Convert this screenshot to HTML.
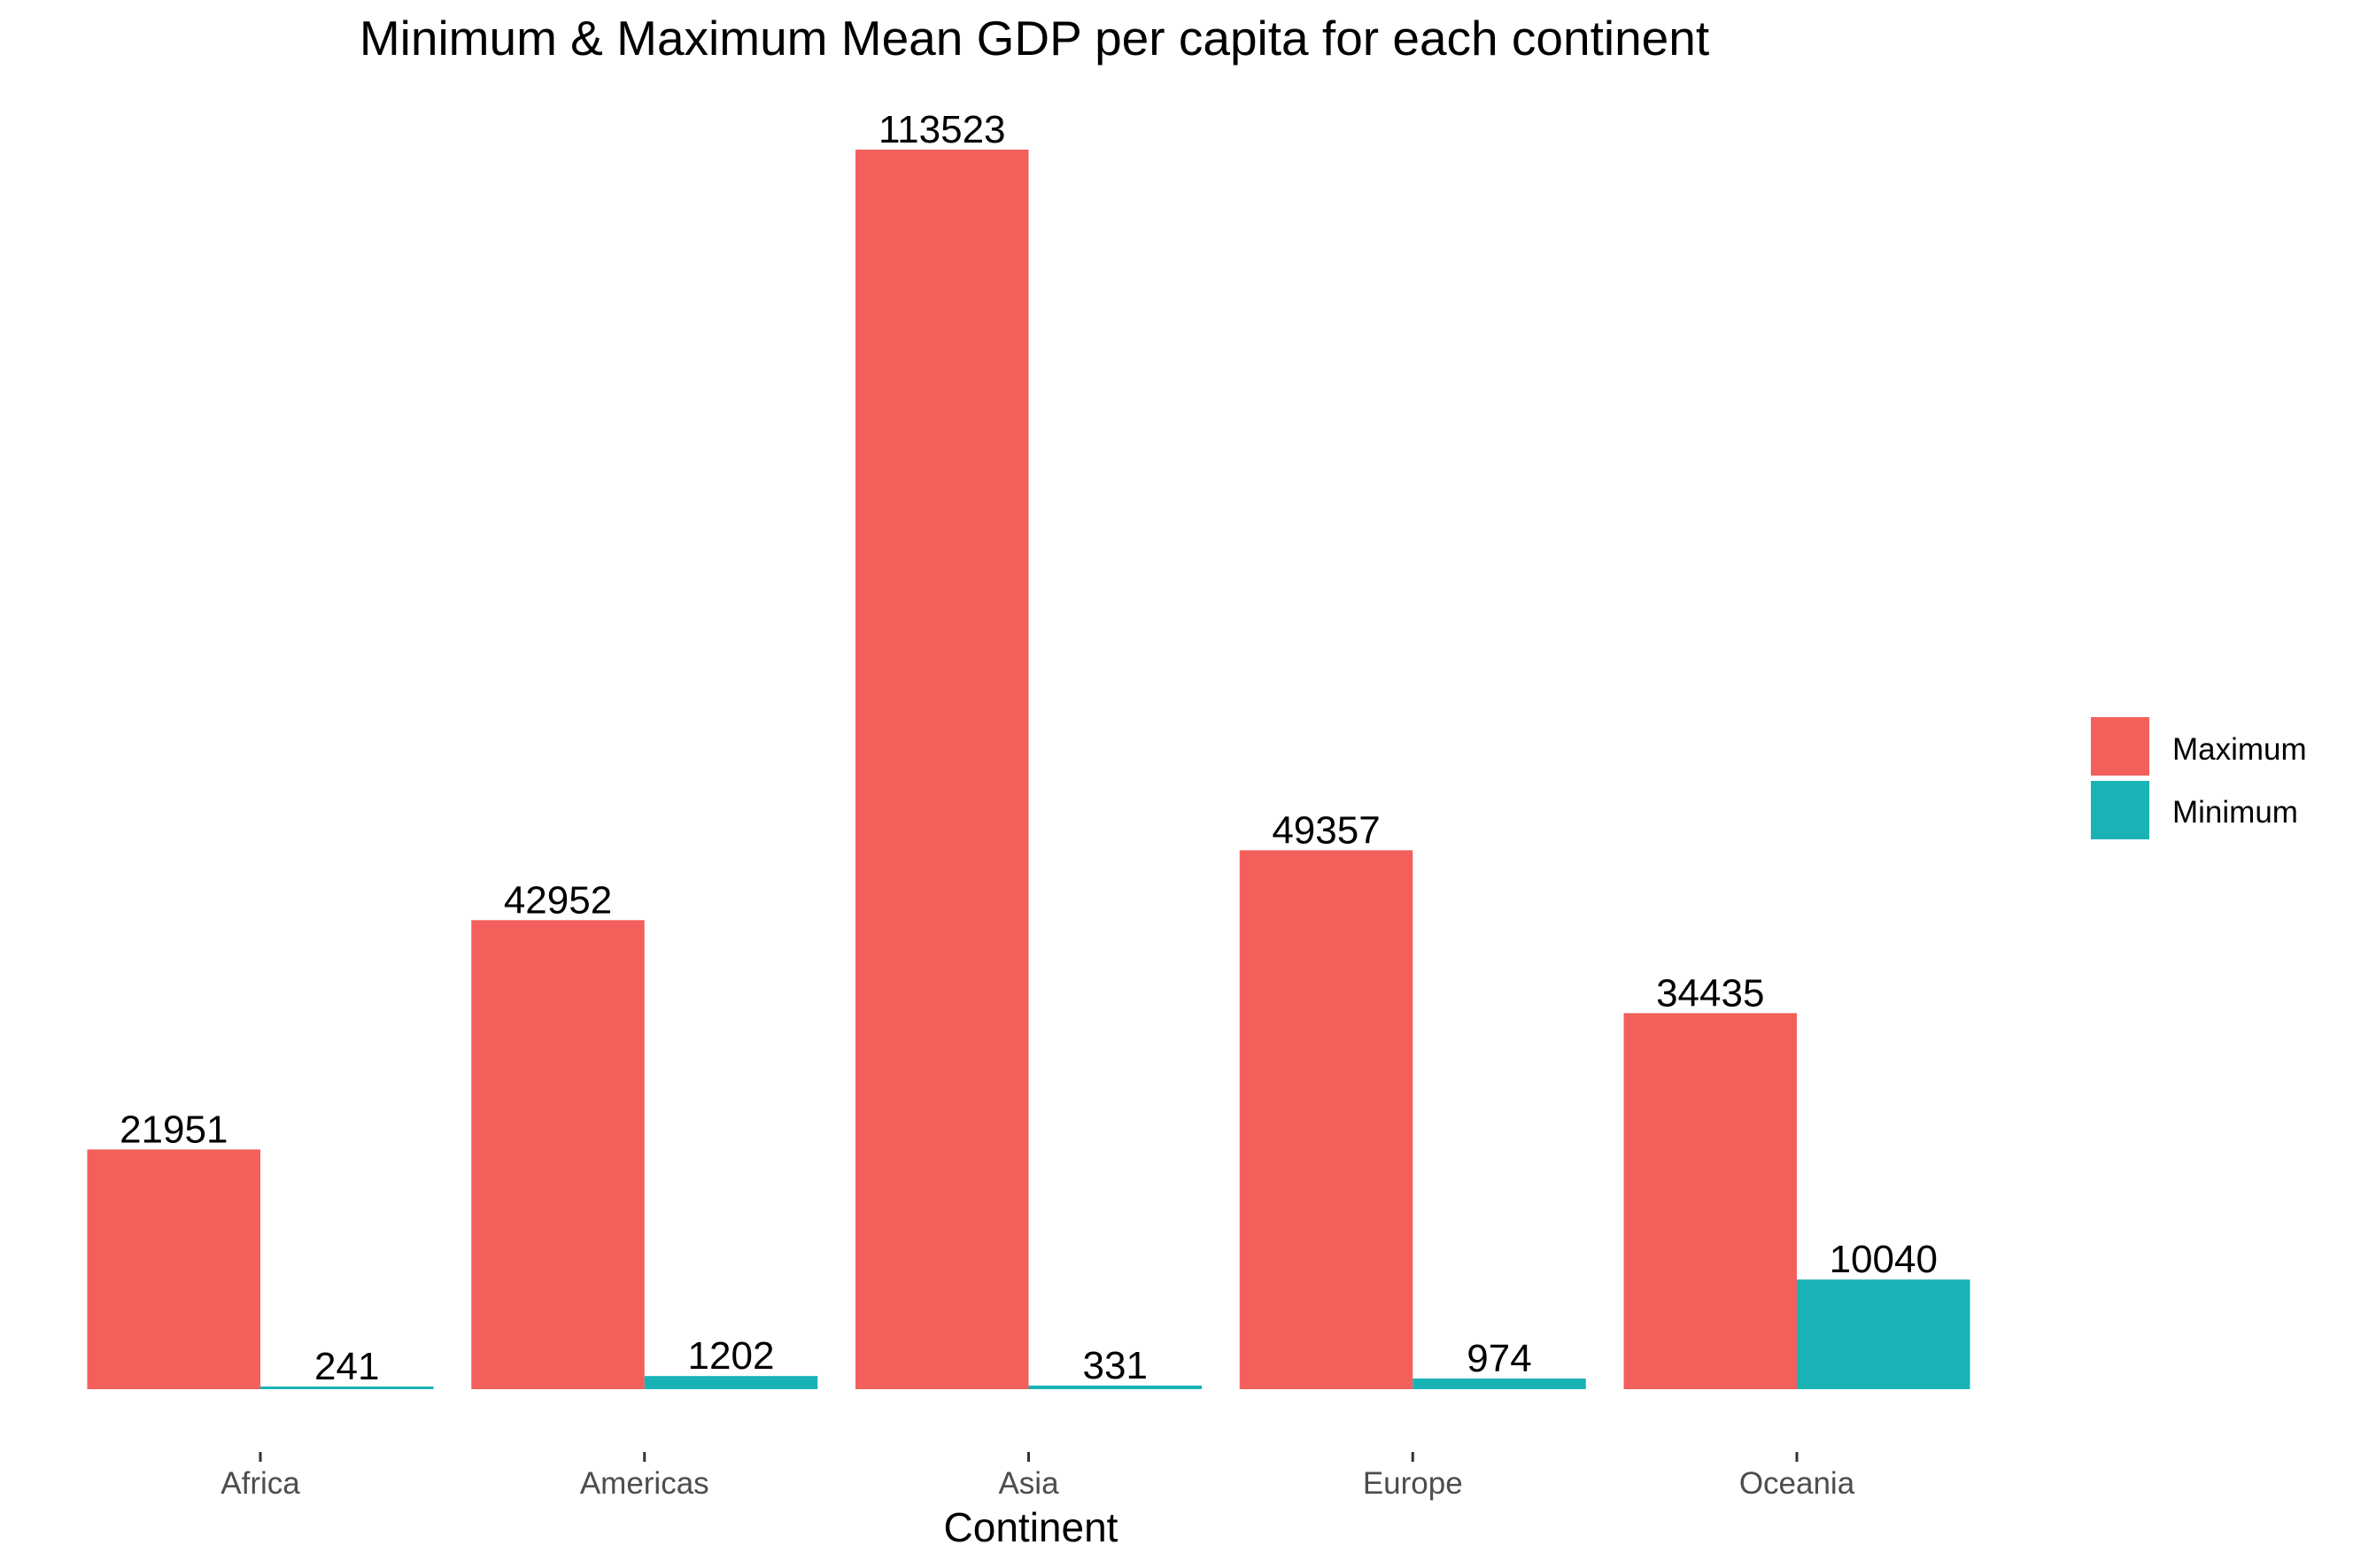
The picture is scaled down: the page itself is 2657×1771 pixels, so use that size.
<!DOCTYPE html>
<html><head><meta charset="utf-8"><style>
html,body{margin:0;padding:0;background:#fff;}
svg{display:block;font-family:"Liberation Sans",Arial,sans-serif;}
</style></head><body>
<svg id="chart" width="2657" height="1771" viewBox="0 0 2657 1771" xmlns="http://www.w3.org/2000/svg">
<text x="1168" y="62" font-size="55" text-anchor="middle" fill="#000">Minimum &amp; Maximum Mean GDP per capita for each continent</text>
<g id="bars"></g>
<g id="xaxis"></g>
<text x="1164" y="1741" font-size="46" text-anchor="middle" fill="#000">Continent</text>
<g>
<rect x="2361" y="810" width="66" height="66" fill="#F3605B"/>
<text x="2453" y="858" font-size="35" fill="#000">Maximum</text>
<rect x="2361" y="882" width="66" height="66" fill="#19B3B6"/>
<text x="2453" y="929" font-size="35" fill="#000">Minimum</text>
</g>
</svg>
<script>
const categories = ["Africa","Americas","Asia","Europe","Oceania"];
const maxValues = [21951,42952,113523,49357,34435];
const minValues = [241,1202,331,974,10040];

const NS = "http://www.w3.org/2000/svg";
const baseY = 1569, pxPerUnit = 1400/113523;
const x0 = 294, period = 433.75, barW = 195.5;
function xCenter(i){ return x0 + i*period; }
function yScale(v){ return baseY - v*pxPerUnit; }
const bars = document.getElementById('bars');
const xaxis = document.getElementById('xaxis');
function mk(tag, attrs, parent){ const e=document.createElementNS(NS,tag); for(const k in attrs) e.setAttribute(k,attrs[k]); parent.appendChild(e); return e; }
categories.forEach((c,i)=>{
  const cx = xCenter(i);
  [[maxValues[i],cx-barW,"#F3605B","max"],[minValues[i],cx,"#19B3B6","min"]].forEach(([v,x,col,s])=>{
    const y = yScale(v);
    const r = mk('rect',{x:x,y:y,width:barW,height:baseY-y,fill:col},bars);
    
    
    const t = mk('text',{x:x+barW/2,y:y-8,'font-size':44,'text-anchor':'middle',fill:'#000'},bars);
    t.textContent = String(v);
    
    
  });
  const tk = mk('line',{x1:cx,x2:cx,y1:1640,y2:1651,stroke:'#333','stroke-width':3},xaxis);
  
  
  const lb = mk('text',{x:cx,y:1687,'font-size':35,'text-anchor':'middle',fill:'#4d4d4d'},xaxis);
  lb.textContent = c;
  
  
});
</script>
</body></html>
